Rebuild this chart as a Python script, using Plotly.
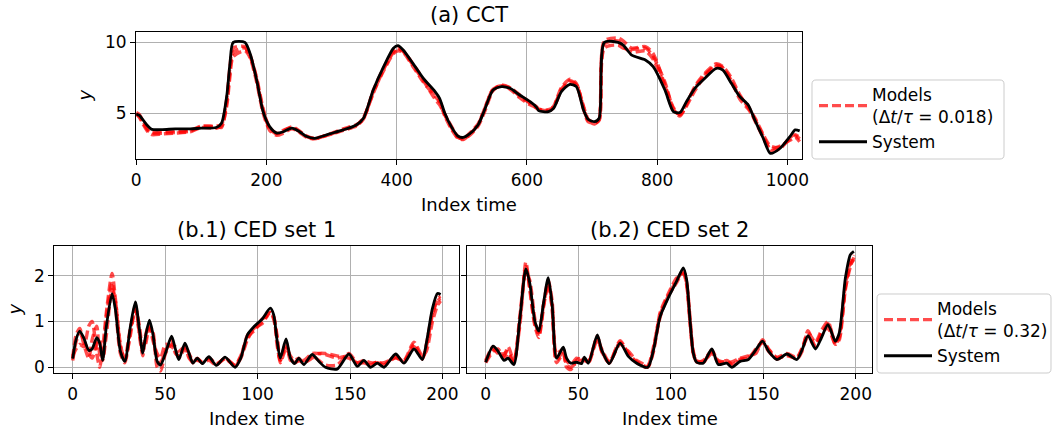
import plotly.graph_objects as go

# (a) CCT -- index positions and values
idx_a = [0, 5, 11, 18, 24, 40, 60, 83, 100, 123, 131, 139, 144, 149, 167, 175, 185, 195, 205, 216,
         226, 239, 251, 262, 274, 297, 318, 338, 349, 364, 380, 395, 402, 410, 425, 441, 459, 466, 474, 484,
         494, 502, 512, 525, 535, 548, 561, 574, 589, 605, 615, 618, 633, 641, 653, 666, 676, 687, 694, 704,
         711, 719, 740, 748, 761, 782, 794, 812, 825, 835, 845, 858, 873, 891, 901, 914, 927, 940, 950, 963,
         974, 989, 1004, 1012, 1019]
system_a = [4.95, 4.85, 4.5, 4.1, 3.87, 3.85, 3.9, 3.9, 3.95, 4.0, 4.3, 6.2, 8.5, 10.0, 10.0, 9.2, 7.35, 5.1, 4.06, 3.6,
            3.7, 3.95, 3.7, 3.36, 3.24, 3.55, 3.83, 4.18, 4.65, 6.64, 8.29, 9.58, 9.77, 9.46, 8.52, 7.46, 6.53, 6.06, 5.0, 4.06,
            3.4, 3.3, 3.55, 4.18, 5.23, 6.64, 6.88, 6.76, 6.29, 5.82, 5.42, 5.19, 5.12, 5.35, 6.53, 7.04, 6.88, 5.23, 4.58, 4.41,
            4.65, 10.0, 10.0, 9.81, 9.1, 8.76, 8.29, 6.64, 5.12, 5.05, 5.82, 6.76, 7.46, 8.17, 8.05, 7.11, 6.17, 5.59, 4.53, 3.24,
            2.18, 2.54, 3.36, 3.83, 3.76]
model_a1 = [5.0, 4.7, 4.2, 3.7, 3.5, 3.55, 3.6, 3.7, 4.0, 3.95, 4.1, 5.5, 7.6, 9.0, 9.4, 8.9, 7.2, 5.0, 3.8, 3.45,
            3.6, 3.9, 3.65, 3.3, 3.2, 3.5, 3.8, 4.1, 4.6, 6.5, 8.0, 9.2, 9.4, 9.3, 8.3, 7.2, 6.2, 5.8, 4.8, 3.9,
            3.25, 3.15, 3.5, 4.2, 5.3, 6.7, 6.95, 6.7, 6.1, 5.6, 5.4, 5.3, 5.2, 5.5, 6.8, 7.4, 7.1, 5.3, 4.4, 4.3,
            4.5, 9.6, 9.8, 9.6, 9.5, 9.6, 9.0, 7.2, 5.3, 4.8, 5.6, 6.9, 7.8, 8.5, 8.3, 7.5, 6.3, 5.4, 4.7, 3.5,
            2.7, 2.6, 3.2, 3.4, 3.2]
model_a2 = [4.9, 4.8, 4.3, 3.8, 3.6, 3.6, 3.65, 3.75, 4.05, 4.05, 4.0, 5.8, 8.0, 9.3, 9.6, 9.0, 7.5, 5.3, 3.9, 3.55,
            3.75, 4.05, 3.75, 3.35, 3.25, 3.5, 3.85, 4.15, 4.7, 6.4, 8.1, 9.3, 9.55, 9.4, 8.4, 7.3, 6.0, 5.6, 4.9, 4.0,
            3.3, 3.2, 3.45, 4.1, 5.1, 6.6, 7.0, 6.8, 6.2, 5.7, 5.35, 5.25, 5.15, 5.4, 6.7, 7.3, 7.0, 5.4, 4.5, 4.25,
            4.6, 10.1, 10.3, 10.1, 9.6, 9.7, 9.2, 7.0, 5.4, 4.9, 5.5, 6.6, 7.6, 8.4, 8.2, 7.3, 6.0, 5.3, 4.6, 3.4,
            2.5, 2.7, 3.1, 3.3, 3.0]
model_a3 = [5.05, 4.9, 4.4, 3.9, 3.7, 3.7, 3.75, 3.8, 4.1, 4.1, 4.2, 6.0, 8.3, 9.6, 9.7, 9.1, 7.4, 5.2, 4.0, 3.6,
            3.8, 4.0, 3.7, 3.4, 3.2, 3.55, 3.9, 4.2, 4.6, 6.6, 8.2, 9.4, 9.6, 9.35, 8.5, 7.4, 6.4, 5.9, 4.9, 4.1,
            3.35, 3.2, 3.6, 4.25, 5.3, 6.7, 6.9, 6.8, 6.3, 5.75, 5.45, 5.3, 5.25, 5.45, 6.6, 7.2, 7.0, 5.5, 4.6, 4.35,
            4.55, 9.9, 10.1, 9.7, 9.3, 9.4, 8.8, 6.9, 5.2, 4.95, 5.7, 6.8, 7.7, 8.3, 8.2, 7.2, 6.2, 5.5, 4.5, 3.3,
            2.4, 2.5, 3.3, 3.5, 3.3]

# (b.1) CED set 1
idx_b1 = [0, 1.8, 3.8, 6, 8.7, 10.5, 13, 14.6, 16.2, 18.2, 21.3, 23.1, 25.8, 28.2, 31.2, 33.9, 36.1, 37.9, 39.4, 41.5,
          43.3, 45.7, 47.5, 50.2, 53.5, 55.6, 57.4, 60.7, 62.9, 65, 67.4, 70.1, 73.7, 77.7, 82.4, 87.8, 90.9, 94.5, 98.1, 102.4,
          106.9, 108.7, 110.5, 112.3, 115.4, 117.8, 120.1, 122.3, 125, 129.5, 133.1, 136.7, 143, 149.4, 153.9, 157.5, 161.1, 164.8, 168.4, 174.7,
          179.2, 184.6, 189.1, 191.3, 194.6, 197.3, 199]
system_b1 = [0.19, 0.6, 0.79, 0.64, 0.37, 0.4, 0.65, 0.53, 0.15, 0.89, 1.61, 1.26, 0.35, 0.13, 0.89, 1.43, 0.82, 0.31, 0.68, 1.03,
             0.75, 0.13, 0.05, 0.31, 0.68, 0.39, 0.17, 0.53, 0.31, 0.09, 0.2, 0.08, 0.23, 0.04, 0.22, 0.0, 0.2, 0.71, 0.89, 1.05,
             1.29, 1.15, 0.6, 0.2, 0.62, 0.2, 0.08, 0.2, 0.06, 0.28, 0.13, 0.0, -0.04, 0.29, 0.02, 0.15, 0.0, 0.09, 0.0, 0.29,
             0.09, 0.4, 0.17, 0.53, 1.29, 1.61, 1.59]
model_b1_1 = [0.25, 0.4, 0.5, 0.45, 0.9, 1.0, 0.3, 0.0, 0.4, 1.2, 2.05, 1.5, 0.5, 0.15, 0.7, 1.3, 0.9, 0.4, 0.5, 0.9,
              0.8, 0.0, -0.08, 0.3, 0.5, 0.45, 0.35, 0.45, 0.3, 0.15, 0.15, 0.12, 0.2, 0.08, 0.18, 0.05, 0.2, 0.6, 0.85, 0.95,
              1.2, 1.05, 0.65, 0.1, 0.4, 0.25, 0.12, 0.15, 0.1, 0.2, 0.3, 0.3, 0.25, 0.2, 0.1, 0.15, 0.1, 0.1, 0.1, 0.2,
              0.15, 0.55, 0.25, 0.35, 1.0, 1.35, 1.45]
model_b1_2 = [0.2, 0.7, 0.85, 0.5, 0.2, 0.6, 0.9, 0.3, 0.2, 1.1, 1.85, 1.35, 0.3, 0.1, 0.8, 1.35, 0.7, 0.25, 0.7, 0.95,
              0.6, 0.3, 0.2, 0.5, 0.45, 0.35, 0.2, 0.4, 0.25, 0.1, 0.2, 0.1, 0.15, 0.05, 0.2, 0.05, 0.25, 0.65, 0.8, 1.0,
              1.2, 1.1, 0.7, 0.15, 0.5, 0.2, 0.1, 0.15, 0.15, 0.3, 0.3, 0.28, 0.2, 0.25, 0.08, 0.1, 0.05, 0.1, 0.05, 0.25,
              0.12, 0.45, 0.2, 0.45, 1.15, 1.45, 1.5]
model_b1_3 = [0.15, 0.55, 0.75, 0.6, 0.3, 0.2, 0.5, 0.6, 0.15, 0.7, 1.7, 1.45, 0.45, 0.2, 0.85, 1.25, 0.75, 0.35, 0.6, 0.85,
              0.7, 0.2, 0.1, 0.35, 0.6, 0.3, 0.25, 0.45, 0.2, 0.12, 0.18, 0.1, 0.2, 0.06, 0.2, 0.02, 0.22, 0.7, 0.85, 1.05,
              1.15, 1.1, 0.5, 0.15, 0.55, 0.15, 0.15, 0.2, 0.08, 0.25, 0.15, 0.05, 0.05, 0.3, 0.1, 0.12, 0.05, 0.12, 0.05, 0.22,
              0.12, 0.5, 0.18, 0.5, 1.2, 1.5, 1.55]

# (b.2) CED set 2
idx_b2 = [0, 4, 6.7, 9.9, 12.1, 15.2, 18.4, 21.7, 23.8, 26.6, 28.7, 31.4, 33.8, 35.9, 38.3, 41.9, 43.7, 46, 49.1, 51.8,
          53.3, 55.5, 60.3, 62.7, 66.8, 72.6, 77.1, 81.6, 87.6, 90.7, 94.3, 98.6, 103.2, 106.8, 108.6, 110.4, 112.2, 114, 117.6, 122.2,
          125.7, 130.3, 133, 137.5, 142, 146, 149.6, 152.9, 157.4, 162.8, 168.2, 171, 174.2, 178.2, 181.4, 185, 189, 191.1, 194.4, 197.1,
          199]
system_b2 = [0.11, 0.46, 0.35, 0.15, 0.2, 0.06, 1.04, 2.15, 1.84, 1.0, 0.79, 1.44, 1.96, 1.37, 0.2, 0.44, 0.2, 0.09, 0.11, 0.08,
             0.22, 0.09, 0.71, 0.38, 0.08, 0.53, 0.24, 0.09, 0.0, 0.38, 1.11, 1.51, 1.88, 2.17, 1.91, 1.04, 0.31, 0.11, 0.09, 0.4,
             0.06, 0.09, 0.0, 0.13, 0.17, 0.38, 0.57, 0.35, 0.17, 0.29, 0.17, 0.38, 0.69, 0.4, 0.64, 0.93, 0.57, 0.75, 1.95, 2.46,
             2.53]
model_b2_1 = [0.12, 0.4, 0.3, 0.25, 0.45, 0.15, 0.9, 2.3, 1.7, 0.9, 0.65, 1.35, 1.85, 1.3, 0.1, 0.3, 0.0, -0.05, 0.15, 0.2,
              0.15, 0.12, 0.65, 0.35, 0.1, 0.55, 0.3, 0.12, 0.02, 0.35, 1.2, 1.6, 1.95, 2.05, 1.8, 1.0, 0.35, 0.15, 0.12, 0.3,
              0.15, 0.1, 0.12, 0.2, 0.25, 0.3, 0.6, 0.4, 0.2, 0.25, 0.2, 0.4, 0.75, 0.55, 0.8, 1.0, 0.5, 0.6, 1.7, 2.2,
              2.4]
model_b2_2 = [0.1, 0.35, 0.4, 0.2, 0.3, 0.1, 1.1, 2.1, 1.9, 1.05, 0.7, 1.4, 1.9, 1.45, 0.3, 0.4, 0.15, 0.05, 0.2, 0.12,
              0.2, 0.1, 0.6, 0.4, 0.12, 0.5, 0.35, 0.15, 0.05, 0.45, 1.15, 1.55, 1.9, 2.1, 1.85, 1.1, 0.3, 0.12, 0.15, 0.35,
              0.1, 0.15, 0.08, 0.15, 0.22, 0.35, 0.55, 0.38, 0.22, 0.3, 0.22, 0.42, 0.65, 0.45, 0.7, 0.95, 0.55, 0.7, 1.8, 2.3,
              2.45]
model_b2_3 = [0.15, 0.45, 0.3, 0.3, 0.35, 0.12, 1.0, 2.2, 1.75, 0.95, 0.75, 1.4, 1.8, 1.3, 0.15, 0.35, 0.05, 0.0, 0.1, 0.15,
              0.18, 0.1, 0.68, 0.35, 0.1, 0.58, 0.3, 0.1, 0.0, 0.4, 1.1, 1.55, 1.85, 2.1, 1.85, 1.0, 0.3, 0.12, 0.1, 0.38,
              0.12, 0.12, 0.05, 0.18, 0.2, 0.4, 0.55, 0.35, 0.18, 0.28, 0.18, 0.35, 0.8, 0.45, 0.75, 0.85, 0.5, 0.65, 1.75, 2.25,
              2.35]

W, H = 1053, 431
FONT = "DejaVu Sans"
RED = "rgba(255,0,0,0.7)"
GRID = "#b0b0b0"


def px_x(p):
    return p / W


def px_y(p):
    return 1 - p / H


def rounded_box(x0, y0, x1, y1, r=4):
    # rounded rectangle path in paper coords, given pixel corners
    def pt(x, y):
        return f"{px_x(x):.5f},{px_y(y):.5f}"
    return (f"M{pt(x0 + r, y0)} L{pt(x1 - r, y0)} Q{pt(x1, y0)} {pt(x1, y0 + r)} "
            f"L{pt(x1, y1 - r)} Q{pt(x1, y1)} {pt(x1 - r, y1)} L{pt(x0 + r, y1)} "
            f"Q{pt(x0, y1)} {pt(x0, y1 - r)} L{pt(x0, y0 + r)} Q{pt(x0, y0)} {pt(x0 + r, y0)} Z")


fig = go.Figure()


def add_panel(xa, ya, idx, system, models, label, legend, show):
    for k, m in enumerate(models):
        fig.add_trace(go.Scatter(
            x=idx, y=m, xaxis=xa, yaxis=ya, mode="lines",
            line=dict(color=RED, width=3.4, dash="9px,4px", shape="spline", smoothing=0.7),
            name=label, showlegend=(show and k == 0), legend=legend,
        ))
    fig.add_trace(go.Scatter(
        x=idx, y=system, xaxis=xa, yaxis=ya, mode="lines",
        line=dict(color="black", width=2.8, shape="spline", smoothing=0.7),
        name="System", showlegend=show, legend=legend,
    ))


add_panel("x", "y", idx_a, system_a, [model_a1, model_a2, model_a3],
          "Models<br>(Δ<i>t</i>/<i>τ</i> = 0.018)", "legend", True)
add_panel("x2", "y2", idx_b1, system_b1, [model_b1_1, model_b1_2, model_b1_3],
          "Models<br>(Δ<i>t</i>/<i>τ</i> = 0.32)", "legend2", True)
add_panel("x3", "y3", idx_b2, system_b2, [model_b2_1, model_b2_2, model_b2_3],
          "Models<br>(Δ<i>t</i>/<i>τ</i> = 0.32)", "legend2", False)

axis_common = dict(
    showline=True, mirror=True, linecolor="black", linewidth=1.2,
    ticks="outside", ticklen=5, tickwidth=1.2, tickcolor="black",
    showgrid=True, gridcolor=GRID, gridwidth=1, zeroline=False, automargin=False,
    tickfont=dict(family=FONT, size=17, color="black"),
)

legend_common = dict(
    xanchor="left", yanchor="top", bgcolor="rgba(0,0,0,0)", borderwidth=0,
    font=dict(family=FONT, size=17, color="black"), itemwidth=48, tracegroupgap=0,
)

fig.update_layout(
    width=W, height=H,
    margin=dict(l=0, r=0, t=0, b=0),
    paper_bgcolor="white", plot_bgcolor="white",
    font=dict(family=FONT, size=17, color="black"),
    xaxis=dict(domain=[px_x(136.2), px_x(802.3)], range=[0, 1023],
               tickvals=[0, 200, 400, 600, 800, 1000], anchor="y", **axis_common),
    yaxis=dict(domain=[px_y(159), px_y(32)], range=[1.78, 10.73],
               tickvals=[5, 10], anchor="x", **axis_common),
    xaxis2=dict(domain=[px_x(54.3), px_x(459)], range=[-9.95, 208.95],
                tickvals=[0, 50, 100, 150, 200], anchor="y2", **axis_common),
    yaxis2=dict(domain=[px_y(373.3), px_y(245.7)], range=[-0.131, 2.655],
                tickvals=[0, 1, 2], anchor="x2", **axis_common),
    xaxis3=dict(domain=[px_x(467.3), px_x(872.3)], range=[-9.95, 208.95],
                tickvals=[0, 50, 100, 150, 200], anchor="y3", **axis_common),
    yaxis3=dict(domain=[px_y(373.3), px_y(245.7)], range=[-0.131, 2.655],
                tickvals=[0, 1, 2], showticklabels=False, anchor="x3", **axis_common),
    legend=dict(x=px_x(814), y=px_y(77), **legend_common),
    legend2=dict(x=px_x(879), y=px_y(291), **legend_common),
    showlegend=True,
)

# legend frames
for box in [(812, 80, 1004, 159), (877, 294, 1051, 373)]:
    fig.add_shape(type="path", path=rounded_box(*box), xref="paper", yref="paper",
                  line=dict(color="#cccccc", width=1), fillcolor="white", layer="above")

# titles, axis labels
texts = [
    ("(a) CCT", 469.3, 15, 21, 0),
    ("(b.1) CED set 1", 256.6, 229.5, 21, 0),
    ("(b.2) CED set 2", 669.8, 229.5, 21, 0),
    ("Index time", 469.3, 204.5, 18, 0),
    ("Index time", 256.6, 418.5, 18, 0),
    ("Index time", 669.8, 418.5, 18, 0),
    ("<i>y</i>", 84, 95.5, 18, -90),
    ("<i>y</i>", 14, 309.5, 18, -90),
]
for txt, x, y, size, ang in texts:
    fig.add_annotation(text=txt, x=px_x(x), y=px_y(y), xref="paper", yref="paper",
                       xanchor="center", yanchor="middle", showarrow=False, textangle=ang,
                       font=dict(family=FONT, size=size, color="black"))

# the page body has a default 8px margin; drop it so the figure fills the window
fig.write_html("out.html", config={"displayModeBar": False},
               post_script="document.body.style.margin = '0px';")
